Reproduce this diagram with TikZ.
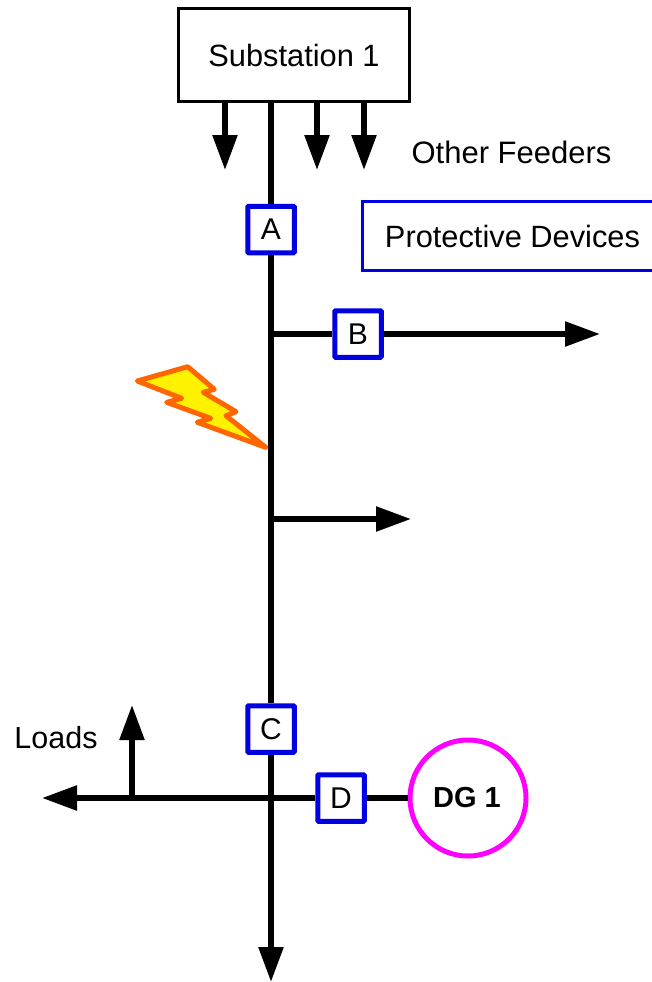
\documentclass[tikz,border=0pt]{standalone}
\usepackage{fontspec}
\setmainfont{Liberation Sans}
\usetikzlibrary{arrows.meta}
\definecolor{devblue}{RGB}{0,0,225}
\definecolor{dgpink}{RGB}{255,0,255}
\definecolor{faultorange}{RGB}{255,102,0}
\tikzstyle{device} = [rectangle, draw=devblue, fill=white, line width=5pt, minimum width=46.5pt, minimum height=46.5pt, inner sep=0pt, align=center, rounded corners=1pt, font=\fontsize{30}{36}\selectfont]
\tikzstyle{feeder} = [line width=5.5pt]
\tikzstyle{arrow} = [line width=5.5pt, -{Triangle[length=35pt,width=24pt]}]
\tikzstyle{label} = [font=\fontsize{30.5}{36}\selectfont, align=center, inner sep=0pt]

\begin{document}
\begin{tikzpicture}[x=1pt,y=-1pt]
\useasboundingbox (0,0) rectangle (652,982);
\fill[white] (0,0) rectangle (652,982);
% substation
\node[rectangle, draw=black, fill=white, line width=3pt, minimum width=231pt, minimum height=92pt, font=\fontsize{30.8}{36}\selectfont] (sub) at (294,55) {Substation 1};
% free ends
\coordinate (mainTop) at (271,100);
\coordinate (mainEnd) at (271,982);
\coordinate (junB) at (271,334);
\coordinate (endB) at (600,334);
\coordinate (junLoad) at (271,519);
\coordinate (endLoad) at (411,519);
\coordinate (endLeft) at (42,798);
\coordinate (junLoads) at (132,798);
\coordinate (endLoads) at (132,705);
% other feeders
\foreach \x in{225,317,364}{
     \coordinate (top\x) at (\x,100);
     \coordinate (tip\x) at (\x,170);
     \draw[arrow] (top\x) -- (tip\x);
}
% protective devices
\node[device] (A) at (271,229.5) {A};
\node[device] (B) at (358,334) {B};
\node[device] (C) at (271,729) {C};
\node[device] (D) at (341,798) {D};
% dg
\node[circle, draw=dgpink, fill=white, line width=5pt, minimum size=116pt, inner sep=0pt, font=\fontsize{29}{36}\selectfont\bfseries] (dg) at (468,798) {\hspace{-2pt}DG 1};
% main line
\draw[feeder] (mainTop) -- (A);
\draw[feeder] (A) -- (C);
\draw[arrow] (C) -- (mainEnd);
% branches
\draw[feeder] (junB) -- (B);
\draw[arrow] (B) -- (endB);
\draw[arrow] (junLoad) -- (endLoad);
\draw[feeder] (D) -- (dg);
\draw[arrow] (D) -- (endLeft);
\draw[arrow] (junLoads) -- (endLoads);
% fault
\draw[draw=faultorange, fill=yellow, line width=5pt, line join=round] (137.3,381) -- (187.7,366.7) -- (214.3,389.3) -- (203.3,392.3) -- (236,411.7) -- (226,415.7) -- (265.7,447.3) -- (197.3,422.3) -- (210.7,418.3) -- (166.7,402.3) -- (181.7,398.3) -- cycle;
% texts
\node[label, font=\fontsize{31}{36}\selectfont] (other) at (511.5,152) {Other Feeders};
\node[rectangle, draw=devblue, fill=white, line width=3pt, minimum width=300pt, minimum height=69pt, font=\fontsize{30.8}{36}\selectfont] (prot) at (512.5,236) {Protective Devices};
\node[label] (loads) at (56,738) {Loads};
\end{tikzpicture}
\end{document}
